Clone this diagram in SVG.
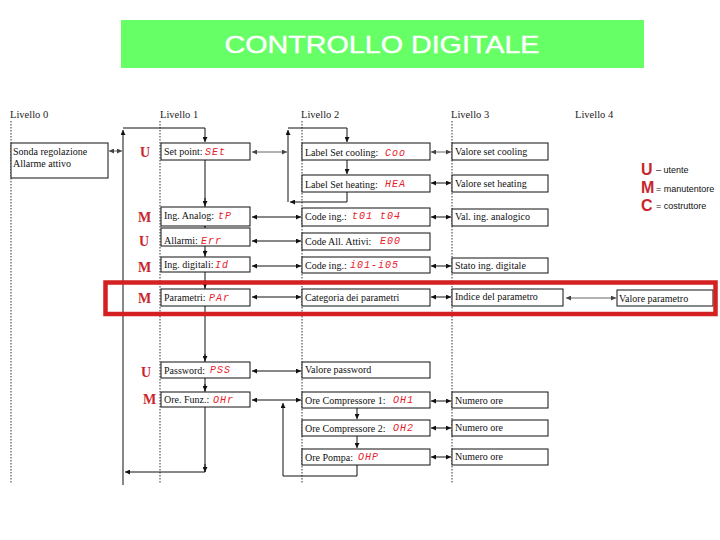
<svg xmlns="http://www.w3.org/2000/svg" width="720" height="540" viewBox="0 0 720 540">
<style>
.t{font-family:"Liberation Serif","Times New Roman",serif;font-size:10px;fill:#111}
.h{font-family:"Liberation Serif","Times New Roman",serif;font-size:10.5px;fill:#222}
.r{font-family:"Liberation Mono","DejaVu Sans Mono",monospace;font-size:10px;fill:#e8202a;font-style:italic;letter-spacing:1px}
.role{font-family:"Liberation Serif","Times New Roman",serif;font-size:14px;font-weight:bold;fill:#c8262c}
.box{fill:#fff;stroke:#111;stroke-width:1}
.dot{stroke:#333;stroke-width:1;stroke-dasharray:1.5,1.5;fill:none}
.ln{stroke:#111;stroke-width:1;fill:none}
.gl{stroke:#666;stroke-width:1;fill:none}
.lg{font-family:"Liberation Sans",Arial,sans-serif;font-size:9px;fill:#111}
.lgl{font-family:"Liberation Sans",Arial,sans-serif;font-size:16px;font-weight:bold;fill:#c8262c}
</style>
<defs>
<marker id="ah" viewBox="0 0 6 6" refX="6" refY="3" markerWidth="5" markerHeight="5" orient="auto-start-reverse"><path d="M0,0 L6,3 L0,6 z" fill="#111"/></marker>
<marker id="ag" viewBox="0 0 6 6" refX="6" refY="3" markerWidth="5" markerHeight="5" orient="auto-start-reverse"><path d="M0,0 L6,3 L0,6 z" fill="#444"/></marker>
</defs>
<rect width="720" height="540" fill="#fff"/>
<g id="title">
<rect x="121" y="20" width="523" height="48" fill="#66ff66"/>
<text x="382" y="52.5" text-anchor="middle" font-family="Liberation Sans,Arial,sans-serif" font-size="24.5" fill="#fff" stroke="#fff" stroke-width="0.4" textLength="315" lengthAdjust="spacingAndGlyphs">CONTROLLO DIGITALE</text>
</g>
<g id="levels">
<text class="h" x="10" y="118">Livello 0</text>
<text class="h" x="160" y="118">Livello 1</text>
<text class="h" x="301" y="118">Livello 2</text>
<text class="h" x="451" y="118">Livello 3</text>
<text class="h" x="575" y="118">Livello 4</text>
<path class="dot" d="M11,121 V484 M160,121 V484 M302,121 V484 M452,121 V484"/>
</g>
<g id="connectors">
<path class="ln" d="M123,485 V130" marker-end="url(#ah)"/>
<path class="ln" d="M123,128 H205 V142" marker-end="url(#ah)"/>
<path class="ln" d="M205,160 V472 H125" marker-end="url(#ah)"/>
<path class="ln" d="M205,198 V206" marker-end="url(#ah)"/>
<path class="ln" d="M205,222 V227" marker-end="url(#ah)"/>
<path class="ln" d="M205,250 V256" marker-end="url(#ah)"/>
<path class="ln" d="M205,280 V288" marker-end="url(#ah)"/>
<path class="ln" d="M205,354 V361" marker-end="url(#ah)"/>
<path class="ln" d="M205,384 V391" marker-end="url(#ah)"/>
<path class="ln" d="M205,464 V472" marker-end="url(#ah)"/>
<path class="ln" d="M288,202 V130" marker-end="url(#ah)"/>
<path class="ln" d="M288,128 H347 V142" marker-end="url(#ah)"/>
<path class="ln" d="M347,160 V174" marker-end="url(#ah)"/>
<path class="ln" d="M347,192 V202 H290" marker-end="url(#ah)"/>
<path class="ln" d="M357,408 V419" marker-end="url(#ah)"/>
<path class="ln" d="M357,436 V448" marker-end="url(#ah)"/>
<path class="ln" d="M357,465 V476 H283 V403" marker-end="url(#ah)"/>
<path class="gl" d="M109,151 H122" marker-start="url(#ag)" marker-end="url(#ag)"/>
<path class="gl" d="M252,152 H287" marker-start="url(#ag)" marker-end="url(#ag)"/>
<path class="ln" d="M252,217 H301" marker-start="url(#ah)" marker-end="url(#ah)"/>
<path class="ln" d="M252,241 H301" marker-start="url(#ah)" marker-end="url(#ah)"/>
<path class="ln" d="M252,266 H301" marker-start="url(#ah)" marker-end="url(#ah)"/>
<path class="ln" d="M252,297 H301" marker-start="url(#ah)" marker-end="url(#ah)"/>
<path class="ln" d="M252,371 H301" marker-start="url(#ah)" marker-end="url(#ah)"/>
<path class="ln" d="M252,400 H301" marker-start="url(#ah)" marker-end="url(#ah)"/>
<path class="gl" d="M431,152 H451" marker-start="url(#ag)" marker-end="url(#ag)"/>
<path class="ln" d="M431,183 H451" marker-start="url(#ah)" marker-end="url(#ah)"/>
<path class="ln" d="M431,217 H451" marker-start="url(#ah)" marker-end="url(#ah)"/>
<path class="ln" d="M431,266 H451" marker-start="url(#ah)" marker-end="url(#ah)"/>
<path class="ln" d="M431,297 H451" marker-start="url(#ah)" marker-end="url(#ah)"/>
<path class="ln" d="M431,401 H451" marker-start="url(#ah)" marker-end="url(#ah)"/>
<path class="ln" d="M431,428 H451" marker-start="url(#ah)" marker-end="url(#ah)"/>
<path class="ln" d="M431,457 H451" marker-start="url(#ah)" marker-end="url(#ah)"/>
<path class="gl" d="M566,298 H616" marker-start="url(#ag)" marker-end="url(#ag)"/>
</g>
<g id="n-level0"><rect class="box" x="11" y="143" width="97" height="35"/><text class="t" x="13" y="155">Sonda regolazione</text><text class="t" x="13" y="167">Allarme attivo</text></g>
<g id="n-setpoint"><text class="role" x="140" y="157">U</text><rect class="box" x="161" y="143" width="89" height="17"/><text class="t" x="164" y="155">Set point:</text><text class="r" x="205" y="155">SEt</text></g>
<g id="n-inganalog"><text class="role" x="138" y="222">M</text><rect class="box" x="161" y="207" width="89" height="19"/><text class="t" x="164" y="219">Ing. Analog:</text><text class="r" x="218" y="219">tP</text></g>
<g id="n-allarmi"><text class="role" x="139" y="246">U</text><rect class="box" x="161" y="228" width="89" height="18"/><text class="t" x="164" y="244">Allarmi:</text><text class="r" x="201" y="244">Err</text></g>
<g id="n-ingdig"><text class="role" x="138" y="272">M</text><rect class="box" x="161" y="257" width="89" height="15"/><text class="t" x="164" y="268">Ing. digitali:</text><text class="r" x="215" y="268">Id</text></g>
<g id="n-parametri"><text class="role" x="138" y="303">M</text><rect class="box" x="161" y="289" width="89" height="17"/><text class="t" x="164" y="301" font-size="9">Parametri:</text><text class="r" x="209" y="301">PAr</text></g>
<g id="n-password"><text class="role" x="141" y="377">U</text><rect class="box" x="161" y="362" width="89" height="16"/><text class="t" x="164" y="374">Password:</text><text class="r" x="210" y="373">PSS</text></g>
<g id="n-orefunz"><text class="role" x="143" y="404">M</text><rect class="box" x="161" y="392" width="89" height="15"/><text class="t" x="164" y="403">Ore. Funz.:</text><text class="r" x="213" y="403">OHr</text></g>
<g id="n-cooling"><rect class="box" x="302" y="143" width="128" height="17"/><text class="t" x="305" y="156">Label  Set cooling:</text><text class="r" x="385" y="156">Coo</text></g>
<g id="n-heating"><rect class="box" x="302" y="175" width="128" height="17"/><text class="t" x="305" y="188">Label  Set heating:</text><text class="r" x="385" y="187">HEA</text></g>
<g id="n-codeing1"><rect class="box" x="302" y="208" width="128" height="18"/><text class="t" x="305" y="220">Code ing.:</text><text class="r" x="352" y="219">t01 t04</text></g>
<g id="n-codeall"><rect class="box" x="302" y="233" width="128" height="17"/><text class="t" x="305" y="245">Code All. Attivi:</text><text class="r" x="380" y="244">E00</text></g>
<g id="n-codeing2"><rect class="box" x="302" y="257" width="128" height="16"/><text class="t" x="305" y="269">Code ing.:</text><text class="r" x="350" y="268">i01-i05</text></g>
<g id="n-categoria"><rect class="box" x="302" y="289" width="128" height="17"/><text class="t" x="305" y="301">Categoria  dei  parametri</text></g>
<g id="n-valpass"><rect class="box" x="302" y="362" width="128" height="16"/><text class="t" x="305" y="373">Valore password</text></g>
<g id="n-oc1"><rect class="box" x="302" y="392" width="128" height="16"/><text class="t" x="305" y="404">Ore Compressore  1:</text><text class="r" x="393" y="403">OH1</text></g>
<g id="n-oc2"><rect class="box" x="302" y="420" width="128" height="16"/><text class="t" x="305" y="432">Ore Compressore  2:</text><text class="r" x="393" y="431">OH2</text></g>
<g id="n-pompa"><rect class="box" x="302" y="449" width="128" height="16"/><text class="t" x="305" y="461">Ore Pompa:</text><text class="r" x="358" y="460">OHP</text></g>
<g id="n-vcool"><rect class="box" x="452" y="143" width="96" height="17"/><text class="t" x="455" y="155">Valore set cooling</text></g>
<g id="n-vheat"><rect class="box" x="452" y="175" width="96" height="17"/><text class="t" x="455" y="187">Valore set heating</text></g>
<g id="n-valing"><rect class="box" x="452" y="209" width="96" height="17"/><text class="t" x="455" y="220">Val. ing. analogico</text></g>
<g id="n-stato"><rect class="box" x="452" y="258" width="96" height="15"/><text class="t" x="455" y="269">Stato ing. digitale</text></g>
<g id="n-indice"><rect class="box" x="452" y="289" width="111" height="17"/><text class="t" x="455" y="300">Indice del parametro</text></g>
<g id="n-num1"><rect class="box" x="452" y="392" width="96" height="16"/><text class="t" x="455" y="404">Numero ore</text></g>
<g id="n-num2"><rect class="box" x="452" y="420" width="96" height="16"/><text class="t" x="455" y="431">Numero ore</text></g>
<g id="n-num3"><rect class="box" x="452" y="449" width="96" height="16"/><text class="t" x="455" y="460">Numero ore</text></g>
<g id="n-valpar"><rect class="box" x="617" y="290" width="96" height="16"/><text class="t" x="619" y="302">Valore parametro</text></g>
<g id="highlight"><rect x="105.5" y="282.5" width="610" height="31.5" fill="none" stroke="#d42020" stroke-width="4.5"/></g>
<g id="legend">
<text class="lgl" x="641" y="175">U</text><text class="lg" x="656" y="173">– utente</text>
<text class="lgl" x="641" y="193">M</text><text class="lg" x="656" y="192">= manutentore</text>
<text class="lgl" x="641" y="211">C</text><text class="lg" x="656" y="209">= costruttore</text>
</g>
</svg>
